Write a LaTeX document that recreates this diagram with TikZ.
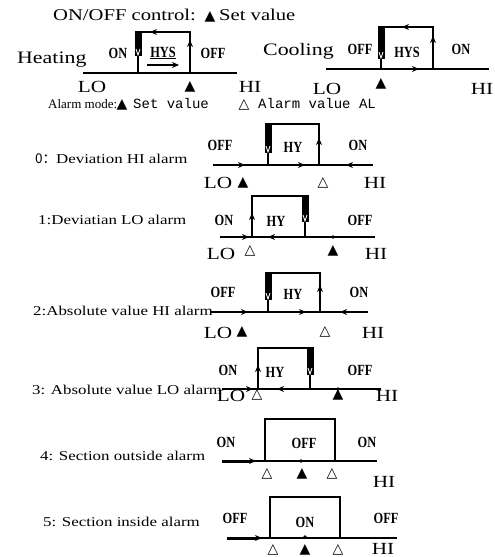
\documentclass[tikz,border=0pt]{standalone}
\usepackage{fontspec}
\setmainfont{Liberation Serif}
\setmonofont{Liberation Mono}
\newfontfamily\ancha[FakeStretch=1.25]{Liberation Serif}
\newfontfamily\estrecha[FakeStretch=0.8]{Liberation Serif}
\newfontfamily\simbolo{DejaVu Sans}
\newfontfamily\cjk{Noto Sans CJK SC}
\usetikzlibrary{arrows.meta}

\tikzset{
  eje/.style={line width=2.8pt},
  lazo/.style={line width=2.8pt},
  punta/.style={-{Stealth[length=7pt,width=6pt]}, line width=1.1pt},
  estado/.style={font=\estrecha\bfseries\fontsize{15.5}{16}\selectfont, anchor=base, inner sep=0pt},
  limite/.style={font=\ancha\fontsize{17}{17}\selectfont, anchor=base, inner sep=0pt},
  modo/.style={font=\ancha\fontsize{13.5}{14}\selectfont, anchor=base west, inner sep=0pt},
  titulo/.style={font=\ancha\fontsize{16.5}{17}\selectfont, anchor=base west, inner sep=0pt},
  marca/.style={font=\simbolo\fontsize{14}{14}\selectfont, anchor=base, inner sep=0pt},
  mono/.style={font=\ttfamily\fontsize{14}{14}\selectfont, anchor=base west, inner sep=0pt},
}

\begin{document}
\begin{tikzpicture}[x=1pt, y=-1pt] % Coordenadas en pixeles

        \useasboundingbox (0,0) rectangle (495,557);

        % Cabecera ON/OFF
        \node[titulo] (control) at (53,20) {ON/OFF control:};
        \node[marca] (sv) at (210,20) {▲};
        \node[titulo] (svtxt) at (219,20) {Set value};

        % Calentamiento
        \node[titulo, font=\ancha\fontsize{17.5}{18}\selectfont] (calor) at (17,63) {Heating};
        \draw[eje] (83,73) -- (237,73); % Eje
        \draw[lazo] (138,73) -- (138,32) -- (190,32) -- (190,73);
        \fill (134.5,31) rectangle (141.5,56);
        \draw[white, line width=.9pt] (136,49) -- (138,55) -- (140,49);
        \draw[punta] (162,32) -- (150,32);
        \draw[punta] (190,52) -- (190,40);
        \draw[punta] (147,65) -- (179,65);
        \node[estado] (on1) at (118,58) {ON};
        \node[estado] (hys1) at (163,57) {\underline{HYS}};
        \node[estado] (off1) at (213,58) {OFF};
        \node[limite] (lo1) at (92,92) {LO};
        \node[marca] (t1) at (190,90) {▲};
        \node[limite] (hi1) at (250,92) {HI};

        % Enfriamiento
        \node[titulo, font=\ancha\fontsize{17.5}{18}\selectfont] (frio) at (263,55) {Cooling};
        \draw[eje] (326,69) -- (489,69); % Eje
        \draw[lazo] (381,69) -- (381,27) -- (433,27) -- (433,69);
        \fill (377.5,26) rectangle (384.5,59);
        \draw[white, line width=.9pt] (379,52) -- (381,58) -- (383,52);
        \draw[punta] (414,27) -- (402,27);
        \draw[punta] (433,48) -- (433,36);
        \draw[punta] (390,69) -- (419,69);
        \node[estado] (off2) at (360,54) {OFF};
        \node[estado] (hys2) at (407,57) {HYS};
        \node[estado] (on2) at (461,54) {ON};
        \node[limite] (lo2) at (327,94) {LO};
        \node[marca] (t2) at (381,87) {▲};
        \node[limite] (hi2) at (482,94) {HI};

        % Modo de alarma
        \node[anchor=base west, inner sep=0pt, font=\fontsize{13}{13}\selectfont] (alarma) at (48,108) {Alarm mode:};
        \node[marca] (a1) at (122,108) {▲};
        \node[mono] (a2) at (133,108) {Set value};
        \node[marca] (a3) at (244,108) {△};
        \node[mono] (a4) at (258,108) {Alarm value AL};

        % 0: desviacion alta
        \begin{scope}[shift={(0,165)}]
            \node[modo] (m0) at (35,-2) {{\cjk 0：}Deviation HI alarm};
            \draw[eje] (213,0) -- (373,0); % Eje
            \draw[punta] (228,0) -- (245,0);
            \draw[lazo] (268,0) -- (268,-41) -- (319,-41) -- (319,0);
            \fill (264.5,-42) rectangle (271.5,-12);
            \draw[white, line width=.9pt] (266,-19) -- (268,-13) -- (270,-19);
            \draw[punta] (319,-15) -- (319,-27);
            \draw[punta] (285,0) -- (305,0);
            \draw[punta] (365,0) -- (346,0);
            \node[estado] at (220,-15) {OFF};
            \node[estado] at (293,-13) {HY};
            \node[estado] at (358,-15) {ON};
            \node[limite] at (218,23) {LO};
            \node[marca] at (243,21) {▲};
            \node[marca] at (323,21) {△};
            \node[limite] at (375,23) {HI};
        \end{scope}

        % 1: desviacion baja
        \begin{scope}[shift={(0,237)}]
            \node[modo] (m1) at (38,-13) {1:Deviatian LO alarm};
            \draw[eje] (220,0) -- (375,0); % Eje
            \draw[punta] (232,0) -- (249,0);
            \draw[lazo] (252,0) -- (252,-41) -- (305,-41) -- (305,0);
            \fill (301.5,-42) rectangle (308.5,-15);
            \draw[white, line width=.9pt] (303,-22) -- (305,-16) -- (307,-22);
            \draw[punta] (252,-12) -- (252,-24);
            \draw[punta] (290,0) -- (268,0);
            \fill (333,0) circle (1.8);
            \node[estado] at (224,-12) {ON};
            \node[estado] at (276,-11) {HY};
            \node[estado] at (360,-12) {OFF};
            \node[limite] at (221,22) {LO};
            \node[marca] at (250,17) {△};
            \node[marca] at (333,17) {▲};
            \node[limite] at (376,22) {HI};
        \end{scope}

        % 2: valor absoluto alto
        \begin{scope}[shift={(0,312)}]
            \node[modo] (m2) at (33,3) {2:Absolute value HI alarm};
            \draw[eje] (210,0) -- (368,0); % Eje
            \draw[punta] (230,0) -- (248,0);
            \draw[lazo] (268,0) -- (268,-39) -- (320,-39) -- (320,0);
            \fill (264.5,-40) rectangle (271.5,-12);
            \draw[white, line width=.9pt] (266,-19) -- (268,-13) -- (270,-19);
            \draw[punta] (320,-15) -- (320,-27);
            \draw[punta] (287,0) -- (306,0);
            \draw[punta] (360,0) -- (340,0);
            \node[estado] at (223,-15) {OFF};
            \node[estado] at (293,-13) {HY};
            \node[estado] at (359,-15) {ON};
            \node[limite] at (218,26) {LO};
            \node[marca] at (242,23) {▲};
            \node[marca] at (325,23) {△};
            \node[limite] at (373,26) {HI};
        \end{scope}

        % 3: valor absoluto bajo
        \begin{scope}[shift={(0,389)}]
            \node[modo] (m3) at (32,5) {3: Absolute value LO alarm};
            \draw[eje] (222,0) -- (381,0); % Eje
            \draw[punta] (236,0) -- (253,0);
            \draw[lazo] (258,0) -- (258,-41) -- (310,-41) -- (310,0);
            \fill (306.5,-42) rectangle (313.5,-14);
            \draw[white, line width=.9pt] (308,-21) -- (310,-15) -- (312,-21);
            \draw[punta] (258,-12) -- (258,-24);
            \draw[punta] (295,0) -- (277,0);
            \fill (338,0) circle (1.8);
            \node[estado] at (228,-14) {ON};
            \node[estado] at (275,-12) {HY};
            \node[estado] at (360,-14) {OFF};
            \node[limite] at (231,12) {LO};
            \node[marca] at (257,9) {△};
            \node[marca] at (338,9) {▲};
            \node[limite] at (387,12) {HI};
        \end{scope}

        % 4: fuera de seccion
        \begin{scope}[shift={(0,461)}]
            \node[modo] (m4) at (40,-1) {4: Section outside alarm};
            \draw[eje] (222,0) -- (377,0); % Eje
            \draw[punta, line width=3pt] (222,0) -- (256,0);
            \draw[lazo] (265,0) -- (265,-42) -- (335,-42) -- (335,0);
            \fill (301,0) circle (1.8);
            \node[estado] at (226,-14) {ON};
            \node[estado] at (304,-13) {OFF};
            \node[estado] at (367,-14) {ON};
            \node[marca] at (267,16) {△};
            \node[marca] at (302,16) {▲};
            \node[marca] at (332,16) {△};
            \node[limite] at (384,26) {HI};
        \end{scope}

        % 5: dentro de seccion
        \begin{scope}[shift={(0,538)}]
            \node[modo] (m5) at (43,-12) {5: Section inside alarm};
            \draw[eje] (227,0) -- (397,0); % Eje
            \draw[punta, line width=3pt] (227,0) -- (262,0);
            \draw[lazo] (270,0) -- (270,-41) -- (340,-41) -- (340,0);
            \fill (305,-1) circle (1.8);
            \node[estado] at (235,-15) {OFF};
            \node[estado] at (305,-11) {ON};
            \node[estado] at (386,-15) {OFF};
            \node[marca] at (273,15) {△};
            \node[marca] at (305,15) {▲};
            \node[marca] at (338,15) {△};
            \node[limite] at (383,16) {HI};
        \end{scope}

    \end{tikzpicture}
\end{document}
